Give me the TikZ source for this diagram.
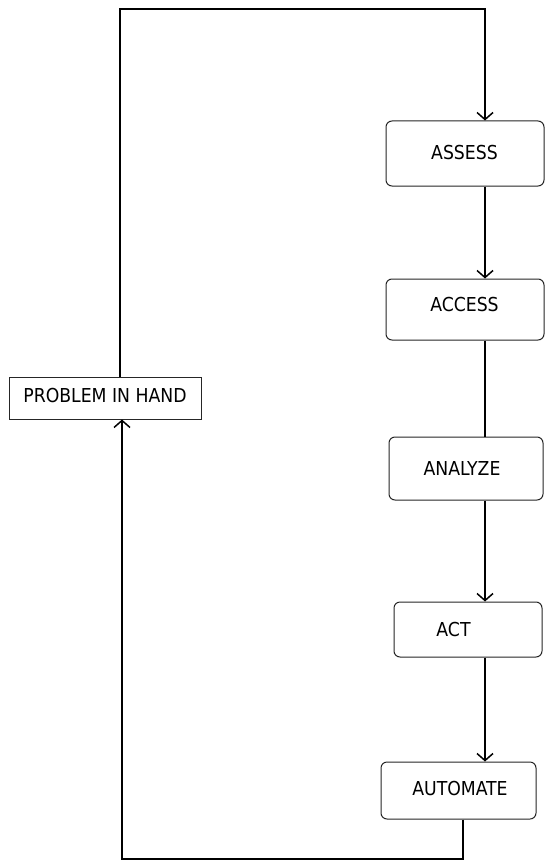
\documentclass[tikz,border=0pt]{standalone}
\usepackage{fontspec}
\setmainfont{DejaVu Sans Condensed}
\usetikzlibrary{arrows.meta}
\begin{document}
\begin{tikzpicture}[x=1pt,y=-1pt,
  stage/.style={draw=black!85, line width=1pt, rounded corners=6pt, fill=white},
  plainbox/.style={draw=black!85, line width=1pt, fill=white},
  lbl/.style={font=\fontsize{19.2}{22}\selectfont, inner sep=0pt},
  flow/.style={line width=1.5pt, -{Straight Barb[length=7pt,width=16pt]}},
  link/.style={line width=1.5pt}]
\useasboundingbox[fill=white] (0,0) rectangle (545,861);

% stage boxes
\node[stage, minimum width=158pt, minimum height=65pt] (assess)   at (465,153.5) {};
\node[stage, minimum width=158pt, minimum height=61pt] (access)   at (465,309.5) {};
\node[stage, minimum width=154pt, minimum height=63pt] (analyze)  at (466,468.5) {};
\node[stage, minimum width=148pt, minimum height=55pt] (act)      at (468,629.5) {};
\node[stage, minimum width=155pt, minimum height=57pt] (automate) at (458.5,790.5) {};
\node[plainbox, minimum width=192pt, minimum height=42pt] (problem) at (105,398) {};

% labels
\node[lbl] (assesstxt)   at (464.5,153) {ASSESS};
\node[lbl] (accesstxt)   at (464.5,305) {ACCESS};
\node[lbl] (analyzetxt)  at (462,468) {ANALYZE};
\node[lbl] (acttxt)      at (453.5,629.5) {ACT};
\node[lbl] (automatetxt) at (460,789) {AUTOMATE};
\node[lbl] (problemtxt)  at (105,396) {PROBLEM IN HAND};

% routing points
\coordinate (spine) at (485,0);
\coordinate (topleft) at (120,9);
\coordinate (topright) at (485,9);
\coordinate (outdrop) at (463,859);
\coordinate (botleft) at (122,859);

% connectors
\draw[flow] (problem.north -| topleft) -- (topleft) -- (topright) -- (assess.north -| topright);
\draw[flow] (assess.south -| spine) -- (access.north -| spine);
\draw[link] (access.south -| spine) -- (analyze.north -| spine);
\draw[flow] (analyze.south -| spine) -- (act.north -| spine);
\draw[flow] (act.south -| spine) -- (automate.north -| spine);
\draw[flow] (automate.south -| outdrop) -- (outdrop) -- (botleft) -- (problem.south -| botleft);
\end{tikzpicture}
\end{document}
